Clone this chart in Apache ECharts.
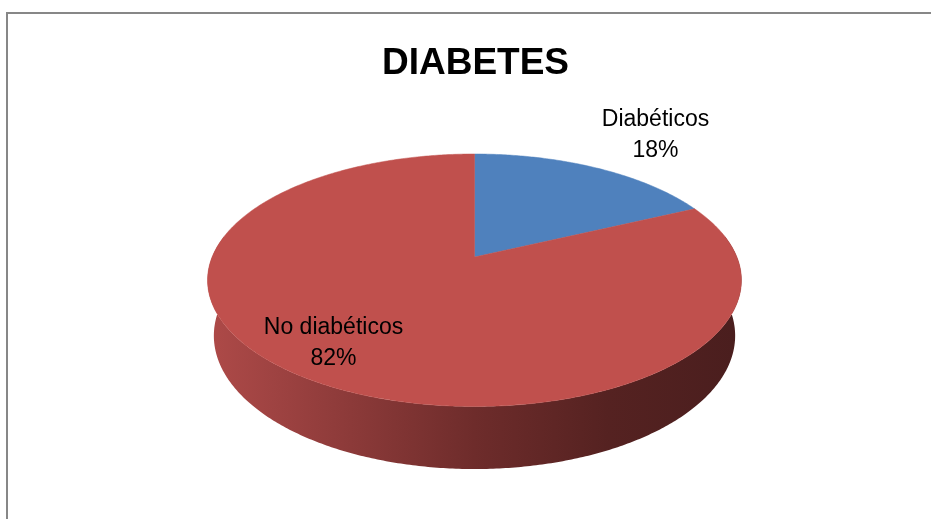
<!DOCTYPE html>
<html>
<head>
<meta charset="utf-8">
<style>
  html, body { margin: 0; padding: 0; background: #ffffff; }
  #chart { width: 931px; height: 519px; }
</style>
<script src="https://cdn.jsdelivr.net/npm/echarts@6/dist/echarts.min.js"></script>
</head>
<body>
<div id="chart"></div>
<script>
// Chart data
const titleText = 'DIABETES';
const categories = ['Diabéticos', 'No diabéticos'];
const shares = [18, 82];

// Styling
const sliceColors = ['#4f81bd', '#c0504d'];
const wallStops = [
  [0.00, '#ae4a48'],
  [0.12, '#9f4342'],
  [0.50, '#6e2c2b'],
  [0.75, '#552221'],
  [1.00, '#4a1e1e']
];
const labelFont = { family: 'Liberation Sans', size: 23, lineHeight: 31 };
// label anchors relative to the pie centre (px)
const labelOffsets = [[181, -122], [-141, 86]];

// Perspective view of a tilted disc
const view = {
  cx: 474.5, cy: 257, F: 1262, D: 4.81,
  tilt: 27.7 * Math.PI / 180, depth: 0.241
};
function project(theta, r, y) {
  const s = Math.sin(view.tilt), c = Math.cos(view.tilt);
  const xw = r * Math.sin(theta);
  const zf = r * Math.cos(theta);
  const u = y * c + zf * s;
  const dist = view.D + zf * c - y * s;
  return [view.cx + view.F * xw / dist, view.cy - view.F * u / dist];
}

const total = shares.reduce((a, b) => a + b, 0);
const starts = [];
shares.reduce((acc, v) => { starts.push(acc); return acc + v; }, 0);

function arcPoints(a0, a1, y, steps) {
  const pts = [];
  for (let k = 0; k <= steps; k++) {
    const t = a0 + (a1 - a0) * k / steps;
    pts.push(project(t, 1, y));
  }
  return pts;
}

// horizontal extent of the disc, used for the wall shading
let minX = Infinity, maxX = -Infinity;
for (let k = 0; k < 720; k++) {
  const p = project(k / 720 * 2 * Math.PI, 1, 0);
  minX = Math.min(minX, p[0]); maxX = Math.max(maxX, p[0]);
}

const FRONT0 = 80 * Math.PI / 180, FRONT1 = 280 * Math.PI / 180;

function renderItem(params, api) {
  const i = params.dataIndex;
  const v = api.value(0);
  const a0 = starts[i] / total * 2 * Math.PI;
  const a1 = (starts[i] + v) / total * 2 * Math.PI;
  const children = [];

  // side wall (front-facing part only)
  const w0 = Math.max(a0, FRONT0), w1 = Math.min(a1, FRONT1);
  if (w1 > w0) {
    const steps = Math.max(8, Math.ceil((w1 - w0) / 0.01));
    const top = arcPoints(w0, w1, 0, steps);
    const bottom = arcPoints(w1, w0, -view.depth, steps);
    children.push({
      type: 'polygon', z2: 1,
      shape: { points: top.concat(bottom) },
      style: {
        fill: new echarts.graphic.LinearGradient(minX, 0, maxX, 0,
          wallStops.map(s => ({ offset: s[0], color: s[1] })), true),
        stroke: null
      }
    });
  }

  // top face
  const steps = Math.max(8, Math.ceil((a1 - a0) / 0.01));
  const pts = [project(0, 0, 0)].concat(arcPoints(a0, a1, 0, steps));
  children.push({
    type: 'polygon', z2: 5,
    shape: { points: pts },
    style: { fill: sliceColors[i], stroke: sliceColors[i], lineWidth: 0.5 }
  });

  // data label
  const pct = Math.round(v / total * 100);
  children.push({
    type: 'text', z2: 10,
    x: view.cx + labelOffsets[i][0],
    y: view.cy + labelOffsets[i][1],
    style: {
      text: categories[i] + '\n' + pct + '%',
      fill: '#000000',
      fontFamily: labelFont.family,
      fontSize: labelFont.size,
      lineHeight: labelFont.lineHeight,
      align: 'center',
      verticalAlign: 'middle'
    }
  });

  return { type: 'group', children: children };
}

const chart = echarts.init(document.getElementById('chart'), null, { renderer: 'canvas' });
chart.setOption({
  animation: false,
  backgroundColor: '#ffffff',
  graphic: [
    {
      type: 'rect', z: 0,
      shape: { x: 7, y: 13, width: 1000, height: 1000 },
      style: { fill: null, stroke: '#878787', lineWidth: 2 }
    },
    {
      type: 'text', z: 10,
      x: 475.5, y: 64,
      style: {
        text: titleText,
        fontFamily: 'Liberation Sans',
        fontWeight: 'bold',
        fontSize: 37,
        fill: '#000000',
        align: 'center',
        verticalAlign: 'middle'
      }
    }
  ],
  series: [{
    type: 'custom',
    coordinateSystem: 'none',
    renderItem: renderItem,
    data: shares.map((v, i) => ({ name: categories[i], value: [v, i] }))
  }]
});
</script>
</body>
</html>
